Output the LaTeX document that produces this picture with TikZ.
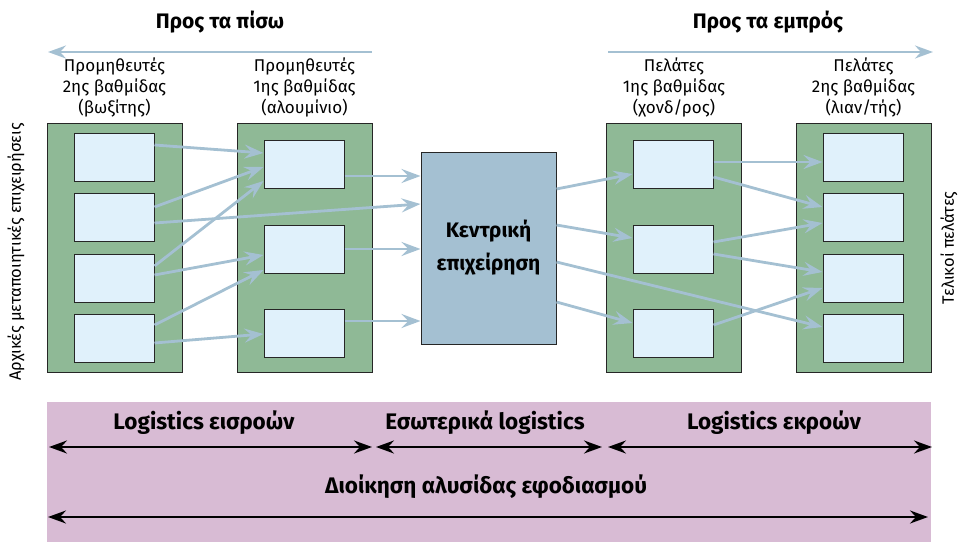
\documentclass[tikz,border=0pt]{standalone}
\usepackage{fontspec}
\setmainfont{Fira Sans}
\usetikzlibrary{arrows.meta,positioning,calc}
\definecolor{tiergreen}{RGB}{143,185,150}
\definecolor{slotblue}{RGB}{224,241,251}
\definecolor{coreblue}{RGB}{164,192,210}
\definecolor{flowblue}{RGB}{164,192,210}
\definecolor{bandpink}{RGB}{216,187,212}

\begin{document}
\begin{tikzpicture}[x=1pt,y=-1pt,
  tier/.style={draw=black!85, line width=1pt, fill=tiergreen,
    minimum width=135pt, minimum height=249pt, inner sep=0pt},
  slot/.style={draw=black!85, line width=1pt, fill=slotblue,
    minimum width=80pt, minimum height=48pt, inner sep=0pt},
  tierlabel/.style={align=center, font=\fontsize{17}{21}\selectfont, inner sep=0pt},
  sidelabel/.style={rotate=90, font=\fontsize{16.5}{18}\selectfont, inner sep=0pt},
  headline/.style={font=\fontsize{21}{24}\selectfont\bfseries, inner sep=0pt},
  bandtext/.style={font=\fontsize{22.5}{26}\selectfont\bfseries, inner sep=0pt},
  flow/.style={flowblue, line width=2.8pt, -{Stealth[length=19pt,width=14pt,inset=7pt]}},
  dirflow/.style={flowblue, line width=2.6pt, -{Stealth[length=18pt,width=13pt,inset=6pt]}},
  span/.style={black, line width=2.4pt,
    {Stealth[length=18pt,width=13pt,inset=6pt]}-{Stealth[length=18pt,width=13pt,inset=6pt]}}
]
\useasboundingbox (0,0) rectangle (959,543);

% ── Tiers ─────────────────────────────────────────────────────────────
\node[tier] (t1) at (114.5,247.5) {};
\node[tier] (t2) at (304.5,247.5) {};
\node[tier] (t3) at (674,247.5) {};
\node[tier] (t4) at (863.5,247.5) {};

% four slots in the outer tiers, three in the inner ones
\foreach \i/\y in {1/157,2/217,3/278,4/338}{
  \node[slot] (t1s\i) at (114,\y) {};
  \node[slot] (t4s\i) at (863,\y) {};
}
\foreach \i/\y in {1/164.5,2/249,3/333}{
  \node[slot] (t2s\i) at (304,\y) {};
  \node[slot] (t3s\i) at (673,\y) {};
}

% ── Focal company ─────────────────────────────────────────────────────
\node[draw=black!85, line width=1pt, fill=coreblue, minimum width=135pt,
      minimum height=192pt, inner sep=0pt, align=center,
      font=\fontsize{21}{33}\selectfont\bfseries] (core) at (488.5,248)
  {Κεντρική\\επιχείρηση};

% ── Tier labels ───────────────────────────────────────────────────────
\node[tierlabel, above=5pt of t1] (lab1) {Προμηθευτές\\2ης βαθμίδας\\(βωξίτης)};
\node[tierlabel, above=5pt of t2] (lab2) {Προμηθευτές\\1ης βαθμίδας\\(αλουμίνιο)};
\node[tierlabel, above=5pt of t3] (lab3) {Πελάτες\\1ης βαθμίδας\\(χονδ/ρος)};
\node[tierlabel, above=5pt of t4] (lab4) {Πελάτες\\2ης βαθμίδας\\(λιαν/τής)};

\node[sidelabel] (origin) at (16,252) {Αρχικές μεταποιητικές επιχειρήσεις};
\node[sidelabel] (final) at (949,248) {Τελικοί πελάτες};

% ── Upstream / downstream ─────────────────────────────────────────────
\node[headline] (back) at (220,22) {Προς τα πίσω};
\node[headline] (fwd) at (768,22) {Προς τα εμπρός};
\coordinate (backS) at (372,52);
\coordinate (backE) at (48,52);
\coordinate (fwdS) at (608,52);
\coordinate (fwdE) at (933,52);
\draw[dirflow] (backS) -- (backE);
\draw[dirflow] (fwdS) -- (fwdE);

% ── Material flows ────────────────────────────────────────────────────
\foreach \a/\sa/\b/\sb in {
    t1s1/12pt/t2s1/11.5pt, t1s2/10pt/t2s1/-2.5pt, t1s2/-6pt/core/44pt,
    t1s3/12pt/t2s1/-16.5pt, t1s3/3pt/t2s2/-6pt, t1s4/13pt/t2s2/-21pt,
    t1s4/-5pt/t2s3/-1pt,
    t2s1/-11.5pt/core/72pt, t2s2/0pt/core/-1pt, t2s3/12pt/core/-73pt,
    core/59pt/t3s1/-9.5pt, core/23pt/t3s2/11pt, core/-14pt/t4s4/11pt,
    core/-54pt/t3s3/10pt,
    t3s1/2.5pt/t4s1/-5pt, t3s1/-12.5pt/t4s2/10pt, t3s2/7pt/t4s2/-6pt,
    t3s2/-5pt/t4s3/6pt, t3s3/8pt/t4s3/-10pt}{
  \draw[flow] ([yshift=\sa]\a.east) -- ([yshift=\sb]\b.west);
}

% ── Logistics band ────────────────────────────────────────────────────
\node[fill=bandpink, minimum width=884pt, minimum height=140pt, inner sep=0pt]
  (band) at (489,472) {};

\node[bandtext] (inbound) at (204,423) {Logistics εισροών};
\node[bandtext] (internal) at (485,423) {Εσωτερικά logistics};
\node[bandtext] (outbound) at (774,423) {Logistics εκροών};
\node[bandtext] (scm) at (486,487) {Διοίκηση αλυσίδας εφοδιασμού};

\coordinate (inL) at (49,447);   \coordinate (inR) at (372,447);
\coordinate (intL) at (376,447); \coordinate (intR) at (602,447);
\coordinate (outL) at (608,447); \coordinate (outR) at (932,447);
\coordinate (scmL) at (48,517);  \coordinate (scmR) at (928,517);
\draw[span] (inL) -- (inR);
\draw[span] (intL) -- (intR);
\draw[span] (outL) -- (outR);
\draw[span] (scmL) -- (scmR);

\end{tikzpicture}
\end{document}
